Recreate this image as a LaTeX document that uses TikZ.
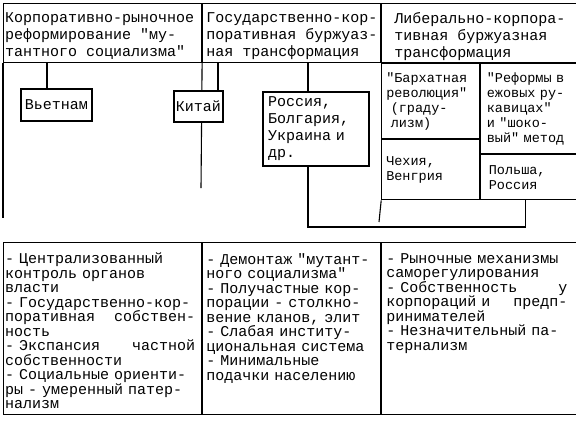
\documentclass[tikz,border=0pt]{standalone}
\usepackage{fontspec}
\setmonofont{Liberation Mono}
\newcommand{\hsz}{\ttfamily\fontsize{15pt}{17pt}\selectfont}
\newcommand{\lsz}{\ttfamily\fontsize{15pt}{14.5pt}\selectfont}
\newcommand{\bsz}{\ttfamily\fontsize{13.5pt}{15pt}\selectfont}
\tikzset{
  cell/.style={draw,line width=1.1pt,anchor=north west,inner sep=0pt},
  txt/.style={anchor=north west,align=left,inner sep=0pt},
  pane/.style={draw,fill=white,line width=1.1pt,anchor=north west,align=left,inner ysep=0pt,font=\bsz},
  land/.style={draw,fill=white,line width=1.1pt,inner sep=1pt,font=\hsz},
  link/.style={line width=1.1pt},
}

\begin{document}
\begin{tikzpicture}[x=1pt,y=-1pt]
  \useasboundingbox (0,0) rectangle (576,424);
  % header row
  \node[cell,minimum width=198pt,minimum height=59pt] (hdrA) at (3,3) {};
  \node[cell,minimum width=178pt,minimum height=59pt] (hdrB) at (hdrA.north east) {};
  \node[cell,minimum width=195pt,minimum height=59pt] (hdrC) at (hdrB.north east) {};
  \node[txt,font=\hsz] (hdrAtxt) at ([shift={(2pt,-9pt)}]hdrA.north west)
    {Корпоративно-рыночное\\реформирование "му-\\тантного социализма"};
  \node[txt,font=\hsz] (hdrBtxt) at ([shift={(4pt,-9pt)}]hdrB.north west)
    {Государственно-кор-\\поративная буржуаз-\\ная трансформация};
  \node[txt,font=\hsz] (hdrCtxt) at ([shift={(13pt,-9pt)}]hdrC.north west)
    {Либерально-корпора-\\тивная буржуазная\\трансформация};

  % lines below the header
  \coordinate (divA) at (3,218);
  \coordinate (divB) at (201,188);
  \coordinate (bend) at (308,227);
  \draw[link] (hdrA.south west) -- (divA);
  \draw[link] (hdrA.south east) -- (divB);

  % countries
  \node[land,minimum width=71pt,minimum height=32pt] (viet) at (56.5,105) {Вьетнам};
  \node[land,minimum width=49pt,minimum height=31pt] (china) at (198.5,106.5) {Китай};
  \node[land,align=left,text width=96pt,inner xsep=5pt,minimum height=74pt] (rus) at (316,129)
    {Россия,\\Болгария,\\Украина и\\др.};
  \draw[link] ([xshift=-9.5pt]viet.north) -- ([xshift=-9.5pt]viet.north |- hdrA.south);
  \draw[link] ([xshift=19.5pt]china.north) -- ([xshift=19.5pt]china.north |- hdrB.south);
  \draw[link] ([xshift=-8pt]rus.north) -- ([xshift=-8pt]rus.north |- hdrB.south);

  % liberal transformation
  \node[pane,text width=89pt,inner xsep=4.5pt,minimum height=75pt] (velvet) at (hdrC.south west)
    {"Бархатная\\революция"\\~(граду-\\~лизм)};
  \node[pane,text width=89pt,inner xsep=4.5pt,minimum height=60pt] (czech) at (velvet.south west)
    {Чехия,\\Венгрия};
  \node[pane,text width=84pt,inner xsep=6pt,minimum height=90pt] (gloves) at (velvet.north east)
    {"Реформы в\\ежовых ру-\\кавицах"\\и "шоко-\\вый" метод};
  \node[pane,text width=80pt,inner xsep=8pt,minimum height=45pt] (pol) at (gloves.south west)
    {Польша,\\Россия};
  \coordinate (divC) at (379,222);
  \draw[link] (czech.south west) -- (divC);
  \draw[link] ([xshift=-8pt]rus.south) -- (bend) -| ([xshift=-3pt]pol.south);

  % features
  \node[cell,minimum width=198pt,minimum height=172pt] (botA) at (3,242) {};
  \node[cell,minimum width=178pt,minimum height=172pt] (botB) at (botA.north east) {};
  \node[cell,minimum width=195pt,minimum height=172pt] (botC) at (botB.north east) {};
  \node[txt,font=\lsz,text width=190pt] (listA) at ([shift={(2pt,-11pt)}]botA.north west)
    {- Централизованный\\контроль органов\\власти\\- Государственно-кор-\\
     поративная\hfill собствен-\\ность\\- Экспансия\hfill частной\\собственности\\
     - Социальные ориенти-\\ры - умеренный патер-\\нализм};
  \node[txt,font=\lsz,text width=172pt] (listB) at ([shift={(4pt,-11pt)}]botB.north west)
    {- Демонтаж "мутант-\\ного социализма"\\- Получастные кор-\\порации - столкно-\\
     вение кланов, элит\\- Слабая институ-\\циональная система\\- Минимальные\\
     подачки населению};
  \node[txt,font=\lsz,text width=181pt] (listC) at ([shift={(5pt,-11pt)}]botC.north west)
    {- Рыночные механизмы\\саморегулирования\\- Собственность\hfill у\\
     корпораций и\hfill предп-\\ринимателей\\- Незначительный па-\\тернализм};
\end{tikzpicture}
\end{document}
